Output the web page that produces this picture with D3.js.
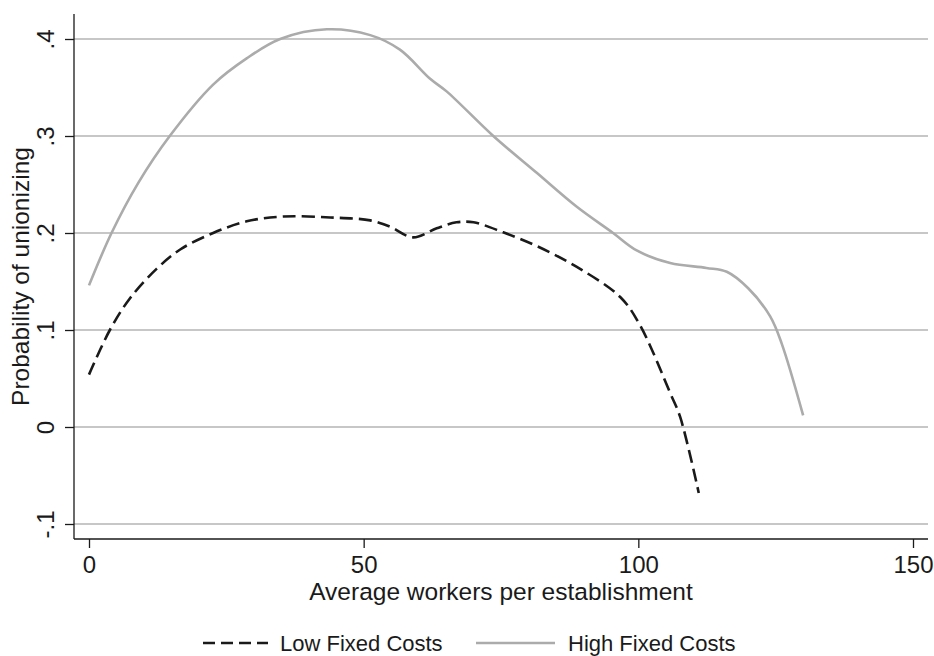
<!DOCTYPE html>
<html>
<head>
<meta charset="utf-8">
<script src="https://cdn.jsdelivr.net/npm/d3@7"></script>
<style>
  body { margin: 0; background: #fff; }
  text { font-family: "Liberation Sans", Arial, Helvetica, sans-serif; fill: #1a1a1a; }
</style>
</head>
<body>
<div id="container"></div>
<script>
// DATA ####################################
const xTicks = [0, 50, 100, 150];
const yTicks = [-0.1, 0, 0.1, 0.2, 0.3, 0.4];
const yTickLabels = ["-.1", "0", ".1", ".2", ".3", ".4"];

// low fixed costs (dashed)
const lowX = [0, 3.8, 7.5, 12.3, 16.6, 22.6, 28.7, 35.4, 43.9, 51.2, 54.8, 59.0, 63.3, 66.9, 70.0, 75.4, 81.5, 88.8, 96.7, 100.3, 105.8, 107.6, 111.0];
const lowY = [0.054, 0.100, 0.133, 0.163, 0.183, 0.200, 0.212, 0.217, 0.216, 0.213, 0.2065, 0.1955, 0.2048, 0.211, 0.211, 0.2007, 0.1866, 0.165, 0.134, 0.105, 0.035, 0.0106, -0.068];

// high fixed costs (grey)
const highX = [0, 4.1, 9.0, 14.7, 22.6, 28.7, 34.8, 43.3, 51.2, 56.6, 62.1, 65.1, 73.6, 81.5, 88.8, 95.4, 99.7, 105.8, 112.4, 116.1, 120.0, 124.0, 126.1, 130.0];
const highY = [0.146, 0.200, 0.252, 0.300, 0.353, 0.380, 0.400, 0.410, 0.404, 0.389, 0.359, 0.346, 0.300, 0.262, 0.227, 0.200, 0.182, 0.169, 0.164, 0.160, 0.143, 0.114, 0.086, 0.012];

const seriesNames = ["Low Fixed Costs", "High Fixed Costs"];

// CONSTANTS ###############################
const width = 934, height = 656;
const plot = { left: 74, right: 928, top: 14, bottom: 539 };
const tickFont = 24, titleFont = 24.5, legendFont = 22;

const xScale = d3.scaleLinear().domain([0, 150]).range([89, 913]);
const yScale = d3.scaleLinear().domain([-0.1, 0.4]).range([524, 39]);

const svg = d3.select("#container")
  .append("svg")
  .attr("width", width)
  .attr("height", height)
  .style("background-color", "white");

// GRIDLINES
svg.selectAll("line.grid")
  .data(yTicks)
  .join("line")
  .attr("class", "grid")
  .attr("x1", plot.left)
  .attr("x2", plot.right)
  .attr("y1", d => yScale(d))
  .attr("y2", d => yScale(d))
  .attr("stroke", "#b4b4b4")
  .attr("stroke-width", 1.5);

// AXES
const yAxis = d3.axisLeft(yScale)
  .tickValues(yTicks)
  .tickFormat((d, i) => yTickLabels[i])
  .tickSize(9)
  .tickSizeOuter(0);

const yg = svg.append("g")
  .attr("transform", `translate(${plot.left},0)`)
  .call(yAxis);
yg.select(".domain").remove();
yg.selectAll(".tick line").attr("stroke", "#1a1a1a").attr("stroke-width", 1.3);
yg.selectAll(".tick text")
  .attr("x", null).attr("dy", null)
  .attr("text-anchor", "middle")
  .attr("font-size", tickFont)
  .attr("transform", "translate(-20,0) rotate(-90)")
  .attr("y", 0);

const xAxis = d3.axisBottom(xScale)
  .tickValues(xTicks)
  .tickSize(9)
  .tickSizeOuter(0);

const xg = svg.append("g")
  .attr("transform", `translate(0,${plot.bottom})`)
  .call(xAxis);
xg.select(".domain").remove();
xg.selectAll(".tick line").attr("stroke", "#1a1a1a").attr("stroke-width", 1.3);
xg.selectAll(".tick text")
  .attr("dy", null)
  .attr("y", 34)
  .attr("font-size", tickFont);

// axis lines
svg.append("line")
  .attr("x1", plot.left).attr("x2", plot.left)
  .attr("y1", plot.top).attr("y2", plot.bottom)
  .attr("stroke", "#1a1a1a").attr("stroke-width", 1.3);
svg.append("line")
  .attr("x1", plot.left).attr("x2", plot.right)
  .attr("y1", plot.bottom).attr("y2", plot.bottom)
  .attr("stroke", "#1a1a1a").attr("stroke-width", 1.3);

// axis titles
svg.append("text")
  .attr("x", (plot.left + plot.right) / 2)
  .attr("y", 600)
  .attr("text-anchor", "middle")
  .attr("font-size", titleFont)
  .text("Average workers per establishment");

svg.append("text")
  .attr("transform", `translate(29,${(plot.top + plot.bottom) / 2}) rotate(-90)`)
  .attr("text-anchor", "middle")
  .attr("font-size", titleFont)
  .text("Probability of unionizing");

// LINES
const line = d3.line()
  .x(d => xScale(d[0]))
  .y(d => yScale(d[1]))
  .curve(d3.curveCatmullRom.alpha(0.5));

const highData = highX.map((x, i) => [x, highY[i]]);
const lowData = lowX.map((x, i) => [x, lowY[i]]);

svg.append("path")
  .datum(highData)
  .attr("d", line)
  .attr("fill", "none")
  .attr("stroke", "#ababab")
  .attr("stroke-width", 2.6);

svg.append("path")
  .datum(lowData)
  .attr("d", line)
  .attr("fill", "none")
  .attr("stroke", "#1a1a1a")
  .attr("stroke-width", 2.6)
  .attr("stroke-dasharray", "13,6");

// LEGEND
const legY = 643;
svg.append("line")
  .attr("x1", 203).attr("x2", 268)
  .attr("y1", legY).attr("y2", legY)
  .attr("stroke", "#1a1a1a").attr("stroke-width", 2.4)
  .attr("stroke-dasharray", "12,6");
svg.append("text")
  .attr("x", 280).attr("y", legY + 8)
  .attr("font-size", legendFont)
  .text(seriesNames[0]);

svg.append("line")
  .attr("x1", 476).attr("x2", 555)
  .attr("y1", legY).attr("y2", legY)
  .attr("stroke", "#ababab").attr("stroke-width", 2.6);
svg.append("text")
  .attr("x", 568).attr("y", legY + 8)
  .attr("font-size", legendFont)
  .text(seriesNames[1]);
</script>
</body>
</html>
